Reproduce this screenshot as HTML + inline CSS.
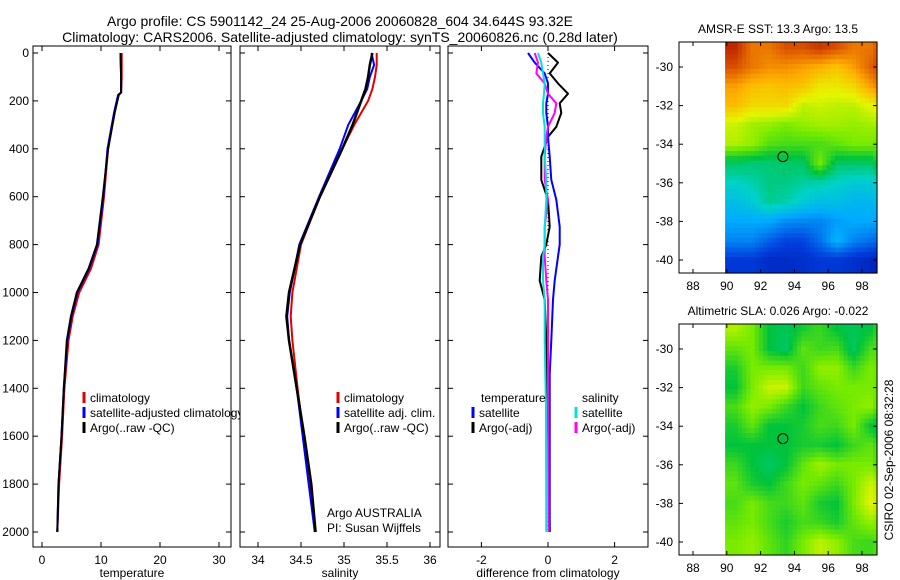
<!DOCTYPE html>
<html><head><meta charset="utf-8"><style>
body{margin:0;background:#fff;}
svg{display:block;font-family:"Liberation Sans",sans-serif;}
</style></head><body>
<svg id="c" width="900" height="580" xmlns="http://www.w3.org/2000/svg"></svg>
<script>
// ---------- data ----------
const tempDepth=[0,100,165,175,250,400,600,800,900,1000,1100,1200,1400,1600,1800,2000];
const tempClim=[13.5,13.5,13.4,13.0,12.3,11.2,10.5,9.6,8.3,6.3,5.2,4.5,3.8,3.4,2.9,2.6];
const tempSat=[13.3,13.4,13.4,12.9,12.2,11.1,10.4,9.4,8.0,6.0,5.0,4.3,3.7,3.3,2.8,2.6];
const tempArgo=[13.3,13.4,13.4,13.0,12.3,11.2,10.3,9.3,7.9,5.9,4.9,4.2,3.7,3.3,2.8,2.6];
const salDepth=[0,50,100,150,200,300,400,600,800,1000,1100,1200,1400,1600,1800,2000];
const salClim=[35.38,35.38,35.36,35.33,35.28,35.12,34.98,34.72,34.50,34.40,34.38,34.40,34.46,34.53,34.60,34.66];
const salSat=[35.32,35.35,35.3,35.27,35.2,35.05,34.95,34.71,34.48,34.37,34.34,34.36,34.45,34.52,34.59,34.66];
const salArgo=[35.33,35.3,35.28,35.25,35.2,35.1,34.98,34.72,34.49,34.36,34.33,34.36,34.45,34.54,34.62,34.67];
const dDepth=[0,40,85,127,170,210,250,308,350,433,530,613,725,800,850,950,1030,1200,1340,1480,2000];
const dTempArgo=[0,0.3,0.05,0.3,0.6,0.35,0.4,0.25,0,-0.2,-0.2,0,0.05,-0.05,-0.2,-0.25,-0.1,-0.05,-0.05,0,0.05];
const dTempSat=[-0.6,-0.4,-0.1,0,0,-0.05,-0.05,0,0,0.05,0.1,0.25,0.35,0.35,0.3,0.2,0.15,0.1,0.05,0.05,0.05];
const dSalArgo=[-0.4,-0.3,-0.35,-0.1,0,0.25,0.2,0,-0.05,-0.1,-0.1,0,-0.1,-0.1,-0.1,-0.05,0,0,0,0,0.02];
const dSalSat=[-0.3,-0.2,-0.15,-0.1,-0.12,-0.15,-0.15,-0.1,-0.1,-0.1,-0.05,-0.05,-0.1,-0.1,-0.15,-0.15,-0.1,-0.1,-0.08,-0.06,-0.05];
const depthTicks=[0,200,400,600,800,1000,1200,1400,1600,1800,2000];
const tempTicks=[0,10,20,30];
const salTicks=[34,34.5,35,35.5,36];
const salTickLabels=["34","34.5","35","35.5","36"];
const diffTicks=[-2,0,2];
const lonTicks=[88,90,92,94,96,98];
const latTicks=[-30,-32,-34,-36,-38,-40];
// SST map (normalized colour index), rows lat -29..-40, cols lon 90..99
const sstGrid=[
[0.95,0.85,0.85,0.9,0.9,0.93,0.9,0.85,0.85,0.95],
[0.9,0.85,0.82,0.82,0.8,0.78,0.75,0.8,0.88,0.95],
[0.8,0.76,0.75,0.76,0.75,0.7,0.7,0.72,0.8,0.88],
[0.76,0.72,0.72,0.72,0.65,0.66,0.65,0.65,0.68,0.72],
[0.66,0.63,0.62,0.6,0.62,0.63,0.63,0.62,0.63,0.62],
[0.64,0.62,0.57,0.56,0.56,0.56,0.58,0.6,0.6,0.56],
[0.47,0.46,0.46,0.47,0.47,0.6,0.47,0.47,0.47,0.6],
[0.4,0.42,0.45,0.45,0.43,0.42,0.4,0.38,0.38,0.42],
[0.35,0.38,0.44,0.42,0.38,0.35,0.35,0.33,0.33,0.33],
[0.3,0.3,0.3,0.26,0.25,0.25,0.28,0.3,0.3,0.28],
[0.25,0.25,0.2,0.16,0.16,0.22,0.32,0.25,0.22,0.2],
[0.14,0.14,0.11,0.11,0.12,0.14,0.14,0.12,0.1,0.06]];
const slaGrid=[
[0.64,0.6,0.5,0.48,0.52,0.55,0.5,0.48,0.5,0.6],
[0.58,0.6,0.5,0.47,0.58,0.55,0.56,0.47,0.56,0.58],
[0.52,0.6,0.6,0.6,0.55,0.62,0.62,0.55,0.6,0.58],
[0.5,0.6,0.66,0.66,0.55,0.58,0.6,0.6,0.6,0.58],
[0.56,0.62,0.6,0.55,0.5,0.55,0.58,0.6,0.62,0.5],
[0.52,0.58,0.5,0.5,0.52,0.56,0.55,0.6,0.5,0.46],
[0.5,0.5,0.5,0.5,0.52,0.52,0.5,0.55,0.58,0.5],
[0.55,0.5,0.47,0.5,0.58,0.63,0.6,0.6,0.6,0.52],
[0.58,0.52,0.5,0.55,0.6,0.58,0.55,0.6,0.66,0.6],
[0.56,0.6,0.56,0.55,0.58,0.52,0.5,0.6,0.68,0.62],
[0.58,0.6,0.56,0.52,0.56,0.55,0.52,0.58,0.62,0.58],
[0.6,0.62,0.58,0.54,0.6,0.65,0.62,0.56,0.55,0.6]];
const floatLon=93.32, floatLat=-34.644;

// ---------- drawing ----------
const NS="http://www.w3.org/2000/svg";
const svg=document.getElementById('c');
function mk(tag,attrs,parent){const e=document.createElementNS(NS,tag);for(const k in attrs)e.setAttribute(k,attrs[k]);(parent||svg).appendChild(e);return e;}
function txt(x,y,s,size,anchor,parent){const t=mk('text',{x:x,y:y,'font-size':size,'text-anchor':anchor||'start',fill:'#000'},parent);t.textContent=s;return t;}
const yTop=46,yBot=547;
function yS(d){return 53+d*0.2395;}
function panel(name,x0,x1,xs,ticks,labels,xlabel,yLabels){
  const g=mk('g',{});
  
  
  mk('rect',{x:x0,y:yTop,width:x1-x0,height:yBot-yTop,fill:'#fff',stroke:'#000','stroke-width':1},g);
  ticks.forEach((t,i)=>{const x=xs(t);
    mk('line',{x1:x,x2:x,y1:yBot,y2:yBot-5,stroke:'#000'},g);
    mk('line',{x1:x,x2:x,y1:yTop,y2:yTop+5,stroke:'#000'},g);
    txt(x,564,labels[i],12,'middle',g);});
  depthTicks.forEach(d=>{const y=yS(d);
    mk('line',{x1:x0,x2:x0+5,y1:y,y2:y,stroke:'#000'},g);
    mk('line',{x1:x1,x2:x1-5,y1:y,y2:y,stroke:'#000'},g);
    if(yLabels)txt(x0-4,y+4,String(d),12,'end',g);});
  const xl=txt((x0+x1)/2,577,xlabel,12,'middle',g);
  
  return g;
}
function line(g,name,xs,xv,dv,color,w,dash){
  const pts=xv.map((v,i)=>xs(v).toFixed(1)+','+yS(dv[i]).toFixed(1)).join(' ');
  const p=mk('polyline',{points:pts,fill:'none',stroke:color,'stroke-width':w,'stroke-linejoin':'round'},g);
  if(dash)p.setAttribute('stroke-dasharray',dash);
  
  
}
function legend(g,x,y,items){
  items.forEach((it,i)=>{
    const l=mk('line',{x1:x,x2:x,y1:y+i*15-10,y2:y+i*15+1,stroke:it[1],'stroke-width':3},g);
    
    const t=txt(x+6,y+i*15,it[0],12,'start',g);
    
  });
}
// panel 1
const xT=v=>42+v*5.9;
const g1=panel('temperature-panel',33,231,xT,tempTicks,tempTicks.map(String),'temperature',true);
line(g1,'temp-climatology',xT,tempClim,tempDepth,'#e00000',2);
line(g1,'temp-satellite',xT,tempSat,tempDepth,'#0000ff',2);
line(g1,'temp-argo',xT,tempArgo,tempDepth,'#000',2);
legend(g1,84,402,[['climatology','#e00000'],['satellite-adjusted climatology','#0000ff'],['Argo(..raw -QC)','#000']]);
// panel 2
const xSal=v=>258+(v-34)*86;
const g2=panel('salinity-panel',240,440,xSal,salTicks,salTickLabels,'salinity',false);
line(g2,'sal-climatology',xSal,salClim,salDepth,'#e00000',2);
line(g2,'sal-satellite',xSal,salSat,salDepth,'#0000ff',2);
line(g2,'sal-argo',xSal,salArgo,salDepth,'#000',2.5);
legend(g2,338,402,[['climatology','#e00000'],['satellite adj. clim.','#0000ff'],['Argo(..raw -QC)','#000']]);
txt(327,517,'Argo AUSTRALIA',12,'start',g2);
txt(327,532,'PI: Susan Wijffels',12,'start',g2);
// panel 3
const xD=v=>548+v*33.3;
const g3=panel('difference-panel',448,648,xD,diffTicks,diffTicks.map(String),'difference from climatology',false);
mk('line',{x1:xD(0),x2:xD(0),y1:yS(0),y2:yS(2000),stroke:'#000','stroke-dasharray':'1,3'},g3);
line(g3,'diff-temp-argo',xD,dTempArgo,dDepth,'#000',2);
line(g3,'diff-temp-satellite',xD,dTempSat,dDepth,'#0000ff',2);
line(g3,'diff-sal-argo',xD,dSalArgo,dDepth,'#ff00ff',2);
line(g3,'diff-sal-satellite',xD,dSalSat,dDepth,'#00e0e0',2);
txt(481,402,'temperature',12,'start',g3);
legend(g3,473,417,[['satellite','#0000ff'],['Argo(-adj)','#000']]);
txt(582,402,'salinity',12,'start',g3);
legend(g3,576,417,[['satellite','#00e0e0'],['Argo(-adj)','#ff00ff']]);
// titles
const t1=txt(340,26,'Argo profile: CS 5901142_24 25-Aug-2006 20060828_604 34.644S 93.32E',14,'middle');

const t2=txt(340,42,'Climatology: CARS2006. Satellite-adjusted climatology: synTS_20060826.nc (0.28d later)',14,'middle');


// maps
const stops=[[0,[0,0,140]],[0.15,[0,60,220]],[0.3,[0,170,255]],[0.4,[0,210,200]],[0.5,[0,195,60]],[0.6,[120,235,0]],[0.68,[230,245,0]],[0.78,[255,175,0]],[0.88,[225,95,0]],[1,[165,0,0]]];
function cmap(v){for(let i=1;i<stops.length;i++){if(v<=stops[i][0]){const a=stops[i-1],b=stops[i],f=(v-a[0])/(b[0]-a[0]);return 'rgb('+a[1].map((c,k)=>Math.round(c+(b[1][k]-c)*f)).join(',')+')';}}return 'rgb(165,0,0)';}
function sample(grid,r,c){
  const R=grid.length-1,C=grid[0].length-1;
  r=Math.max(0,Math.min(R,r));c=Math.max(0,Math.min(C,c));
  const r0=Math.floor(r),c0=Math.floor(c),r1=Math.min(R,r0+1),c1=Math.min(C,c0+1),fr=r-r0,fc=c-c0;
  return grid[r0][c0]*(1-fr)*(1-fc)+grid[r0][c1]*(1-fr)*fc+grid[r1][c0]*fr*(1-fc)+grid[r1][c1]*fr*fc;
}
function map(name,top,title,grid){
  const g=mk('g',{});
  
  
  const x0=679,x1=877,bot=top+231;
  const lonS=v=>693+(v-88)*16.9;
  const latS=v=>top+25+(-30-v)*19.3;
  mk('rect',{x:x0,y:top,width:x1-x0,height:bot-top,fill:'#fff'},g);
  const step=0.25;
  for(let la=-28.6;la>-40.7;la-=step){
    for(let lo=89.9;lo<99.7;lo+=step){
      const v=sample(grid,(-29-(la-step/2)),(lo+step/2-90.5));
      const xa=lonS(lo), xb=Math.min(lonS(lo+step),x1);
      const ya=Math.max(latS(la),top), yb=Math.min(latS(la-step),bot);
      if(xb<=xa||yb<=ya)continue;
      const cell=mk('rect',{x:xa.toFixed(1),y:ya.toFixed(1),width:(xb-xa+0.6).toFixed(1),height:(yb-ya+0.6).toFixed(1),fill:cmap(v)},g);
      
    }
  }
  mk('rect',{x:x0,y:top,width:x1-x0,height:bot-top,fill:'none',stroke:'#000'},g);
  lonTicks.forEach(t=>{const x=lonS(t);mk('line',{x1:x,x2:x,y1:bot,y2:bot-4,stroke:'#000'},g);mk('line',{x1:x,x2:x,y1:top,y2:top+4,stroke:'#000'},g);txt(x,bot+17,String(t),12,'middle',g);});
  latTicks.forEach(t=>{const y=latS(t);mk('line',{x1:x0,x2:x0+4,y1:y,y2:y,stroke:'#000'},g);mk('line',{x1:x1,x2:x1-4,y1:y,y2:y,stroke:'#000'},g);txt(x0-6,y+4,String(t),12,'end',g);});
  const c=mk('circle',{cx:lonS(floatLon),cy:latS(floatLat),r:5,fill:'none',stroke:'#000'},g);
  
  const tt=txt(778,top-9,title,12,'middle',g);
  
}
map('sst-map',42,'AMSR-E SST: 13.3 Argo: 13.5',sstGrid);
map('sla-map',324,'Altimetric SLA: 0.026 Argo: -0.022',slaGrid);
const cs=txt(0,0,'CSIRO 02-Sep-2006 08:32:28',12,'middle');
cs.setAttribute('transform','translate(893,460) rotate(-90)');

</script>
</body></html>
